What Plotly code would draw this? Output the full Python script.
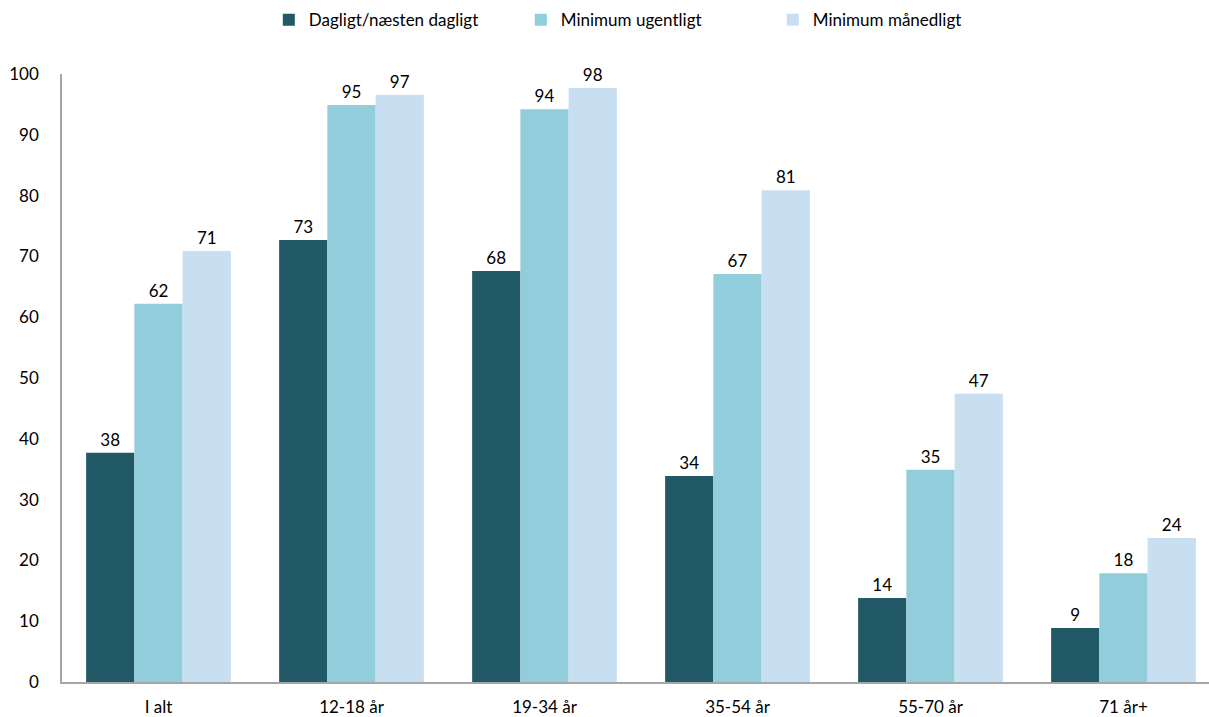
import plotly.graph_objects as go

categories = ["I alt", "12-18 år", "19-34 år", "35-54 år", "55-70 år", "71 år+"]
daily = [37.7, 72.7, 67.6, 33.9, 13.8, 8.9]
weekly = [62.2, 94.9, 94.2, 67.1, 34.9, 17.9]
monthly = [70.9, 96.6, 97.7, 80.9, 47.4, 23.7]

series = [
    ("Dagligt/næsten dagligt", daily, "#215967"),
    ("Minimum ugentligt", weekly, "#92CDDC"),
    ("Minimum månedligt", monthly, "#C8DFF2"),
]

fig = go.Figure()
for name, vals, col in series:
    fig.add_trace(go.Bar(
        x=categories, y=vals, name=name, marker_color=col,
        marker_line_width=0,
        text=[f"{round(v):d}" for v in vals], textposition="outside",
        textfont=dict(size=17, color="#000000"), cliponaxis=False,
    ))

fig.update_layout(
    width=1209, height=717,
    margin=dict(l=62, r=0, t=74, b=35, autoexpand=False),
    barmode="group", bargap=0.25, bargroupgap=0,
    plot_bgcolor="white", paper_bgcolor="white",
    font=dict(family="Lato, Open Sans, sans-serif", size=17, color="#000000"),
    legend=dict(orientation="h", x=0.535, xanchor="center", xref="container",
                y=0.972, yanchor="middle", yref="container",
                font=dict(size=17), itemwidth=30, entrywidth=207,
                entrywidthmode="pixels", traceorder="normal"),
    uniformtext=dict(minsize=17, mode="show"),
)
fig.update_xaxes(
    type="category", range=[-0.5, 5.443], showline=True, linecolor="#A6A6A6",
    linewidth=1.5, ticks="", ticklabelstandoff=9, showgrid=False, automargin=False,
)
fig.update_yaxes(
    range=[0, 100], dtick=10, showline=True, linecolor="#A6A6A6", linewidth=1.5,
    showgrid=False, zeroline=False, ticks="", ticklabelstandoff=18, automargin=False,
)
fig.write_html("out.html")
